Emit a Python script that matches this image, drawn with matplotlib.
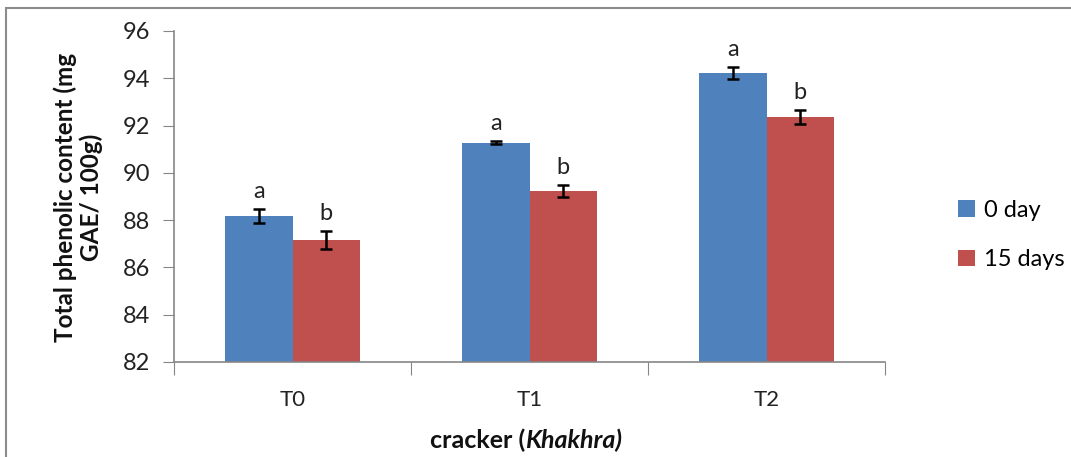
import matplotlib
matplotlib.use("Agg")
import matplotlib.pyplot as plt
from matplotlib.patches import Rectangle
import numpy as np

categories = ["T0", "T1", "T2"]
series_names = ["0 day", "15 days"]
day0 = [88.17, 91.28, 94.22]
day0_err = [0.30, 0.07, 0.25]
day15 = [87.16, 89.23, 92.36]
day15_err = [0.40, 0.25, 0.28]
letters0 = ["a", "a", "a"]
letters15 = ["b", "b", "b"]
yticks = [82, 84, 86, 88, 90, 92, 94, 96]

plt.rcParams['font.family'] = ['Lato', 'DejaVu Sans']

fig = plt.figure(figsize=(10.71, 4.57), dpi=100)
ax = fig.add_axes([174/1071, 1-362/457, 711/1071, 331/457])

x = np.arange(len(categories))
w = 0.283
c0, c1 = "#4F81BD", "#C0504D"
ax.bar(x - w/2, day0, w, color=c0, label=series_names[0], zorder=2)
ax.bar(x + w/2, day15, w, color=c1, label=series_names[1], zorder=2)
ax.errorbar(x - w/2, day0, yerr=day0_err, fmt='none', ecolor='black', elinewidth=1.8, capsize=4.5, capthick=1.8, zorder=3)
ax.errorbar(x + w/2, day15, yerr=day15_err, fmt='none', ecolor='black', elinewidth=1.8, capsize=4.5, capthick=1.8, zorder=3)

for xi, v, e, t in zip(x - w/2, day0, day0_err, letters0):
    ax.annotate(t, (xi, v + e), xytext=(0, 5), textcoords='offset points', ha='center', va='bottom', fontsize=17, color='#222222')
for xi, v, e, t in zip(x + w/2, day15, day15_err, letters15):
    ax.annotate(t, (xi, v + e), xytext=(0, 5), textcoords='offset points', ha='center', va='bottom', fontsize=17, color='#222222')

ax.set_ylim(82, 96)
ax.set_xlim(-0.5, len(categories) - 0.5)
ax.set_yticks(yticks)
ax.set_yticklabels([str(t) for t in yticks], fontsize=17, color='#222222')
ax.set_xticks(np.arange(-0.5, len(categories), 1.0))
ax.set_xticklabels([])
ax.set_xticks(x, minor=True)
ax.set_xticklabels(categories, minor=True, fontsize=16, color='#222222')
ax.tick_params(axis='x', which='major', length=9, direction='out', color='#868686')
ax.tick_params(axis='x', which='minor', length=0, pad=20)
ax.tick_params(axis='y', length=8, direction='out', color='#868686', pad=9)
for s in ['top', 'right']:
    ax.spines[s].set_visible(False)
for s in ['left', 'bottom']:
    ax.spines[s].set_color('#868686')
    ax.spines[s].set_linewidth(1.2)

fig.text(78/1071, 1-197/457, "Total phenolic content (mg\nGAE/ 100g)", rotation=90, ha='center', va='center',
         fontsize=17.5, fontweight='bold', color='#111111', linespacing=1.1)

lbl1 = fig.text(430/1071, 1-440/457, "cracker (", fontsize=18, fontweight='bold', ha='left', va='center', color='#111111')
fig.canvas.draw()
bb = lbl1.get_window_extent()
fig.text(bb.x1/1071, 1-440/457, "Khakhra)", fontsize=18, fontweight='bold', style='italic', ha='left', va='center', color='#111111')

ax.legend(loc='center left', bbox_to_anchor=(937/1071, 1-235/457), bbox_transform=fig.transFigure,
          frameon=False, fontsize=17, handlelength=0.7, handleheight=0.7, handletextpad=0.4, labelspacing=1.2)

fig.patches.append(Rectangle((6/1071, -0.1), 1.2, 1-8/457+0.1, transform=fig.transFigure, fill=False,
                             edgecolor='#8c8c8c', linewidth=1.5))

fig.savefig("out.png", dpi=100)
